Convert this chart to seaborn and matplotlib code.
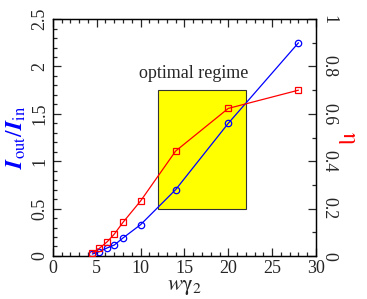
import numpy as np
import pandas as pd
import matplotlib
matplotlib.use("Agg")
import matplotlib.pyplot as plt
from matplotlib.patches import Rectangle
from matplotlib.ticker import MultipleLocator
import seaborn as sns

# data
w_gamma = [4.5, 5.3, 6.2, 7.0, 8.0, 10.0, 14.0, 20.0, 28.0]
ratio = [0.02, 0.045, 0.085, 0.115, 0.19, 0.33, 0.70, 1.40, 2.25]
eta = [0.013, 0.032, 0.060, 0.092, 0.142, 0.232, 0.443, 0.623, 0.70]
regime_x = [12, 22]
regime_y = [0.5, 1.75]

sns.set_style("ticks")
plt.rcParams['font.family'] = ['Liberation Serif', 'DejaVu Serif']
plt.rcParams['mathtext.fontset'] = 'stix'
plt.rcParams['font.size'] = 13

fig = plt.figure(figsize=(3.67, 2.99), dpi=100)
ax = fig.add_axes([0.144, 0.144, 0.717, 0.792])

ax.add_patch(Rectangle((regime_x[0], regime_y[0]), regime_x[1] - regime_x[0],
                       regime_y[1] - regime_y[0], facecolor='#ffff00',
                       edgecolor='#333333', linewidth=0.8, zorder=1))
ax.text(16.0, 1.88, 'optimal regime', ha='center', va='baseline', fontsize=13)

df = pd.DataFrame({'x': w_gamma, 'ratio': ratio, 'eta': eta})
sns.lineplot(data=df, x='x', y='ratio', ax=ax, color='blue', lw=0.9, sort=False,
             marker='o', markersize=4.6, markerfacecolor='none',
             markeredgecolor='blue', markeredgewidth=0.9, zorder=3)

ax2 = ax.twinx()
sns.lineplot(data=df, x='x', y='eta', ax=ax2, color='red', lw=0.9, sort=False,
             marker='s', markersize=5, markerfacecolor='none',
             markeredgecolor='red', markeredgewidth=0.9, zorder=3)

ax.set_xlim(0, 30)
ax.set_ylim(0, 2.5)
ax2.set_ylim(0, 1)

ax.xaxis.set_major_locator(MultipleLocator(5))
ax.xaxis.set_minor_locator(MultipleLocator(1))
ax.yaxis.set_major_locator(MultipleLocator(0.5))
ax.yaxis.set_minor_locator(MultipleLocator(0.1))
ax2.yaxis.set_major_locator(MultipleLocator(0.2))
ax2.yaxis.set_minor_locator(MultipleLocator(0.1))

ax.set_yticks([0, 0.5, 1, 1.5, 2, 2.5], ['0', '0.5', '1', '1.5', '2', '2.5'])
ax2.set_yticks([0, 0.2, 0.4, 0.6, 0.8, 1], ['0', '0.2', '0.4', '0.6', '0.8', '1'])

ax.tick_params(axis='x', which='both', direction='in', top=True, labelsize=13, pad=3)
ax.tick_params(axis='y', which='both', direction='in', right=False, labelsize=13,
               labelrotation=90, pad=3)
ax2.tick_params(axis='y', which='both', direction='in', labelsize=13,
                labelrotation=-90, pad=3)
for a in (ax, ax2):
    a.tick_params(which='major', length=6, width=0.9)
    a.tick_params(which='minor', length=3, width=0.9)
    for s in a.spines.values():
        s.set_linewidth(0.9)
        s.set_color('black')
for lab in ax.get_yticklabels() + ax2.get_yticklabels():
    lab.set_va('center')

ax.set_xlabel(r'$w\mathrm{\gamma}_2$', fontsize=16, labelpad=1)
ax.set_ylabel(r'$\boldsymbol{I}_{\rm out}/\boldsymbol{I}_{\rm in}$', fontsize=17,
              color='blue', labelpad=3)
ax2.set_ylabel(r'$\mathrm{\eta}$', fontsize=17, color='red', rotation=270, labelpad=14)

fig.savefig('out.png', dpi=100)
